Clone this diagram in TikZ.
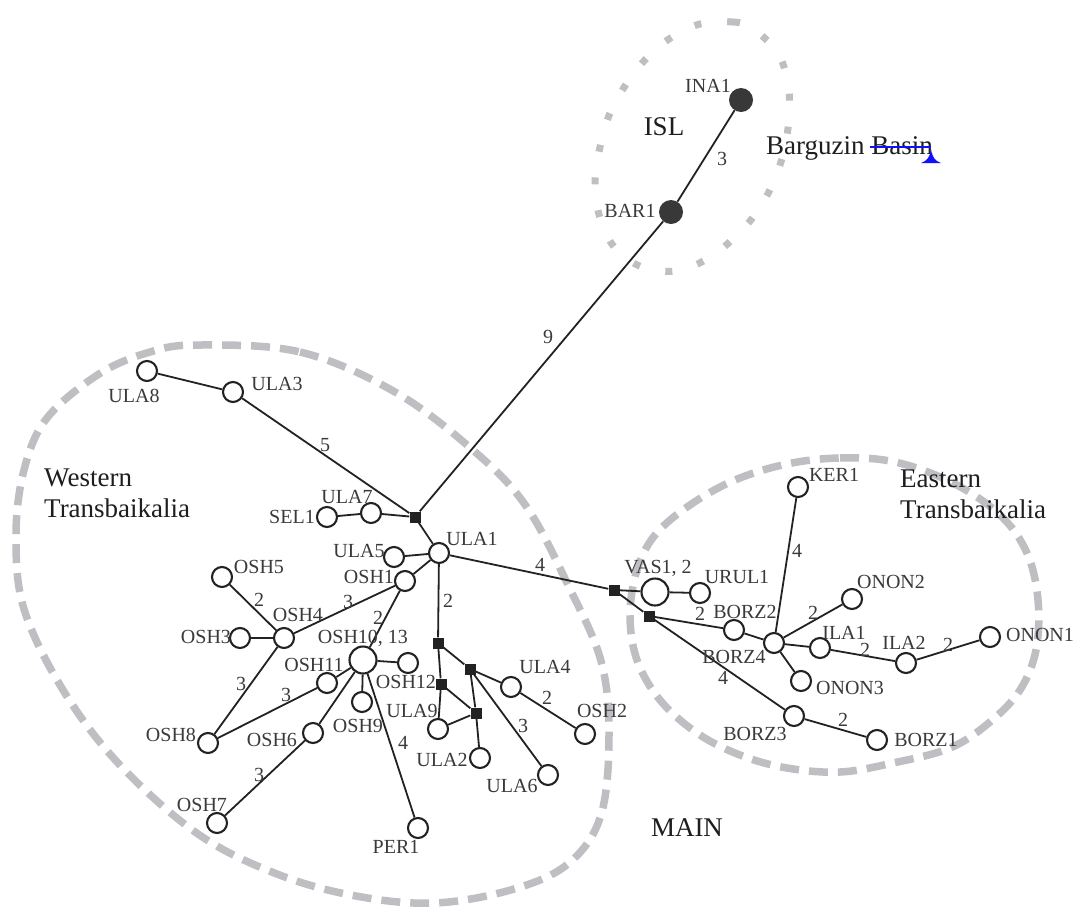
\documentclass[tikz,border=0pt]{standalone}
\usepackage{fontspec}
\setmainfont{Liberation Serif}
\definecolor{ink}{HTML}{222222}
\definecolor{labc}{HTML}{3A3A3A}
\definecolor{bigc}{HTML}{1E1E1E}
\definecolor{dashc}{HTML}{BFBFC3}
\definecolor{strike}{HTML}{1010FF}
\begin{document}
\begin{tikzpicture}[x=1pt,y=-1pt,
  hap/.style={circle,draw=ink,line width=2.1pt,fill=white,minimum size=20pt,inner sep=0pt},
  bighap/.style={hap,minimum size=27pt},
  islhap/.style={circle,fill=ink!90,minimum size=24pt,inner sep=0pt},
  mv/.style={rectangle,fill=ink,minimum size=11pt,inner sep=0pt},
  edge/.style={draw=ink,line width=1.8pt},
  lab/.style={text=labc,font=\fontsize{20pt}{22pt}\selectfont,inner sep=0pt},
  big/.style={text=bigc,font=\fontsize{27pt}{31pt}\selectfont,inner sep=0pt},
  wdash/.style={draw=dashc,line width=7.5pt,dash pattern=on 19pt off 10pt},
  idot/.style={draw=dashc,line width=7pt,dash pattern=on 7pt off 26pt}]
\useasboundingbox (0,0) rectangle (1074,908);
\fill[white] (0,0) rectangle (1074,908);

% region outlines
\draw[wdash] plot[smooth cycle,tension=0.6] coordinates {
 (198,345) (300,352) (395,392) (474,451) (526,506) (569,587) (601,661)
 (609,734) (601,815) (569,863) (514,889) (435,903) (356,896) (277,874)
 (198,834) (119,764) (63,690) (24,609) (16,536) (24,470) (47,418) (99,374) (150,352)};
\draw[wdash] plot[smooth cycle,tension=0.6] coordinates {
 (787,464) (840,458) (895,462) (953,483) (1000,515) (1027,553) (1038,600)
 (1036,650) (1020,690) (990,722) (950,748) (893,763) (840,772) (787,768)
 (740,755) (697,733) (660,700) (637,660) (630,615) (637,570) (655,535) (690,505) (735,480)};
\draw[idot] plot[smooth cycle,tension=0.6] coordinates {
 (700,24) (733,22) (752,28) (777,52) (788,83) (789,117) (784,151) (773,183)
 (757,212) (734,238) (707,259) (676,271) (642,267) (615,248) (600,218)
 (595,184) (599,152) (608,118) (623,89) (643,62) (669,39)};

% nodes
\node[islhap] (INA1) at (741,100) {};
\node[islhap] (BAR1) at (671,212) {};
\node[mv] (J1) at (415,517) {};
\node[mv] (J2) at (614,590) {};
\node[mv] (J3) at (438,643) {};
\node[mv] (J4) at (470,669) {};
\node[mv] (J5) at (441,684) {};
\node[mv] (J6) at (476,713) {};
\node[mv] (J7) at (649,616) {};
\node[hap] (ULA8) at (147,371) {};
\node[hap] (ULA3) at (233,392) {};
\node[hap] (ULA7) at (371,513) {};
\node[hap] (SEL1) at (327,517) {};
\node[hap] (ULA1) at (439,553) {};
\node[hap] (ULA5) at (394,557) {};
\node[hap] (OSH1) at (405,581) {};
\node[hap] (OSH5) at (222,577) {};
\node[hap] (OSH4) at (284,638) {};
\node[hap] (OSH3) at (240,638) {};
\node[bighap] (OSH10) at (363,660) {};
\node[hap] (OSH12) at (408,663) {};
\node[hap] (OSH11) at (327,683) {};
\node[hap] (OSH9) at (362,702) {};
\node[hap] (OSH8) at (208,743) {};
\node[hap] (OSH6) at (313,733) {};
\node[hap] (OSH7) at (217,823) {};
\node[hap] (PER1) at (418,828) {};
\node[hap] (ULA4) at (511,687) {};
\node[hap] (OSH2) at (585,734) {};
\node[hap] (ULA9) at (438,729) {};
\node[hap] (ULA2) at (480,758) {};
\node[hap] (ULA6) at (548,775) {};
\node[bighap] (VAS1) at (655,592) {};
\node[hap] (URUL1) at (700,593) {};
\node[hap] (BORZ2) at (734,630) {};
\node[hap] (BORZ4) at (774,643) {};
\node[hap] (KER1) at (798,487) {};
\node[hap] (ONON2) at (852,599) {};
\node[hap] (ILA1) at (820,648) {};
\node[hap] (ILA2) at (906,663) {};
\node[hap] (ONON1) at (990,637) {};
\node[hap] (ONON3) at (801,681) {};
\node[hap] (BORZ3) at (794,716) {};
\node[hap] (BORZ1) at (877,740) {};

% edges
\draw[edge] (J1) -- (BAR1);
\draw[edge] (BAR1) -- (INA1);
\draw[edge] (J1) -- (ULA3);
\draw[edge] (ULA3) -- (ULA8);
\draw[edge] (J1) -- (ULA7);
\draw[edge] (ULA7) -- (SEL1);
\draw[edge] (J1) -- (ULA1);
\draw[edge] (ULA1) -- (ULA5);
\draw[edge] (ULA1) -- (OSH1);
\draw[edge] (OSH1) -- (OSH4);
\draw[edge] (OSH4) -- (OSH5);
\draw[edge] (OSH4) -- (OSH3);
\draw[edge] (OSH4) -- (OSH8);
\draw[edge] (OSH1) -- (OSH10);
\draw[edge] (OSH10) -- (OSH12);
\draw[edge] (OSH10) -- (OSH11);
\draw[edge] (OSH11) -- (OSH8);
\draw[edge] (OSH10) -- (OSH9);
\draw[edge] (OSH10) -- (OSH6);
\draw[edge] (OSH6) -- (OSH7);
\draw[edge] (OSH10) -- (PER1);
\draw[edge] (ULA1) -- (J3);
\draw[edge] (J3) -- (J5);
\draw[edge] (J5) -- (ULA9);
\draw[edge] (J5) -- (J6);
\draw[edge] (ULA9) -- (J6);
\draw[edge] (J3) -- (J4);
\draw[edge] (J4) -- (J6);
\draw[edge] (J6) -- (ULA2);
\draw[edge] (J4) -- (ULA4);
\draw[edge] (ULA4) -- (OSH2);
\draw[edge] (J4) -- (ULA6);
\draw[edge] (ULA1) -- (J2);
\draw[edge] (J2) -- (VAS1);
\draw[edge] (VAS1) -- (URUL1);
\draw[edge] (J2) -- (J7);
\draw[edge] (J7) -- (BORZ2);
\draw[edge] (BORZ2) -- (BORZ4);
\draw[edge] (BORZ4) -- (KER1);
\draw[edge] (BORZ4) -- (ONON2);
\draw[edge] (BORZ4) -- (ILA1);
\draw[edge] (ILA1) -- (ILA2);
\draw[edge] (ILA2) -- (ONON1);
\draw[edge] (BORZ4) -- (ONON3);
\draw[edge] (J7) -- (BORZ3);
\draw[edge] (BORZ3) -- (BORZ1);

% haplotype labels
\node[lab] (lINA1) at (708,86) {INA1};
\node[lab] (lBAR1) at (630,211) {BAR1};
\node[lab] (lULA8) at (134,396) {ULA8};
\node[lab] (lULA3) at (277,384) {ULA3};
\node[lab] (lULA7) at (347,497) {ULA7};
\node[lab] (lSEL1) at (292,517) {SEL1};
\node[lab] (lULA5) at (359,551) {ULA5};
\node[lab] (lULA1) at (472,539) {ULA1};
\node[lab] (lOSH1) at (369,577) {OSH1};
\node[lab] (lOSH5) at (259,567) {OSH5};
\node[lab] (lOSH4) at (298,615) {OSH4};
\node[lab] (lOSH3) at (206,637) {OSH3};
\node[lab] (lOSH10) at (363,638) {OSH10, 13};
\node[lab] (lOSH11) at (314,665) {OSH11};
\node[lab] (lOSH12) at (406,682) {OSH12};
\node[lab] (lULA9) at (412,711) {ULA9};
\node[lab] (lOSH9) at (358,726) {OSH9};
\node[lab] (lOSH8) at (171,735) {OSH8};
\node[lab] (lOSH6) at (272,740) {OSH6};
\node[lab] (lOSH7) at (202,805) {OSH7};
\node[lab] (lPER1) at (396,847) {PER1};
\node[lab] (lULA4) at (545,667) {ULA4};
\node[lab] (lOSH2) at (602,711) {OSH2};
\node[lab] (lULA2) at (442,760) {ULA2};
\node[lab] (lULA6) at (512,786) {ULA6};
\node[lab] (lKER1) at (834,475) {KER1};
\node[lab] (lVAS1) at (658,568) {VAS1, 2};
\node[lab] (lURUL1) at (737,577) {URUL1};
\node[lab] (lBORZ2) at (745,612) {BORZ2};
\node[lab] (lONON2) at (891,582) {ONON2};
\node[lab] (lILA1) at (844,633) {ILA1};
\node[lab] (lILA2) at (904,643) {ILA2};
\node[lab] (lONON1) at (1040,635) {ONON1};
\node[lab] (lBORZ4) at (734,657) {BORZ4};
\node[lab] (lONON3) at (850,688) {ONON3};
\node[lab] (lBORZ3) at (755,734) {BORZ3};
\node[lab] (lBORZ1) at (926,740) {BORZ1};

% mutation counts
\node[lab] (m3) at (722,159) {3};
\node[lab] (m9) at (548,337) {9};
\node[lab] (m5) at (325,445) {5};
\node[lab] (m2a) at (259,600) {2};
\node[lab] (m3a) at (348,602) {3};
\node[lab] (m2b) at (378,618) {2};
\node[lab] (m3b) at (241,684) {3};
\node[lab] (m3c) at (286,695) {3};
\node[lab] (m3d) at (259,775) {3};
\node[lab] (m4a) at (403,743) {4};
\node[lab] (m4b) at (540,565) {4};
\node[lab] (m2c) at (448,601) {2};
\node[lab] (m2d) at (547,698) {2};
\node[lab] (m3e) at (523,726) {3};
\node[lab] (m4c) at (797,551) {4};
\node[lab] (m2e) at (700,614) {2};
\node[lab] (m2f) at (813,613) {2};
\node[lab] (m2g) at (865,650) {2};
\node[lab] (m2h) at (948,645) {2};
\node[lab] (m4d) at (723,678) {4};
\node[lab] (m2i) at (843,720) {2};

% region labels
\node[big] (lISL) at (664,127) {ISL};
\node[big,anchor=base west] (lBarg) at (766,154) {Barguzin Basin};
\node[big,anchor=base west] (lWest1) at (44,486) {Western};
\node[big,anchor=base west] (lWest2) at (44,517) {Transbaikalia};
\node[big,anchor=base west] (lEast1) at (900,487) {Eastern};
\node[big,anchor=base west] (lEast2) at (900,518) {Transbaikalia};
\node[big] (lMAIN) at (687,828) {MAIN};

% editing marks over "Basin"
\draw[strike,line width=1.5pt] (870,147) -- (931,147);
\fill[strike] (931,149) .. controls (932,157) and (935,161) .. (941,163)
  -- (921,163) .. controls (927,161) and (930,157) .. (931,149) -- cycle;
\end{tikzpicture}
\end{document}
